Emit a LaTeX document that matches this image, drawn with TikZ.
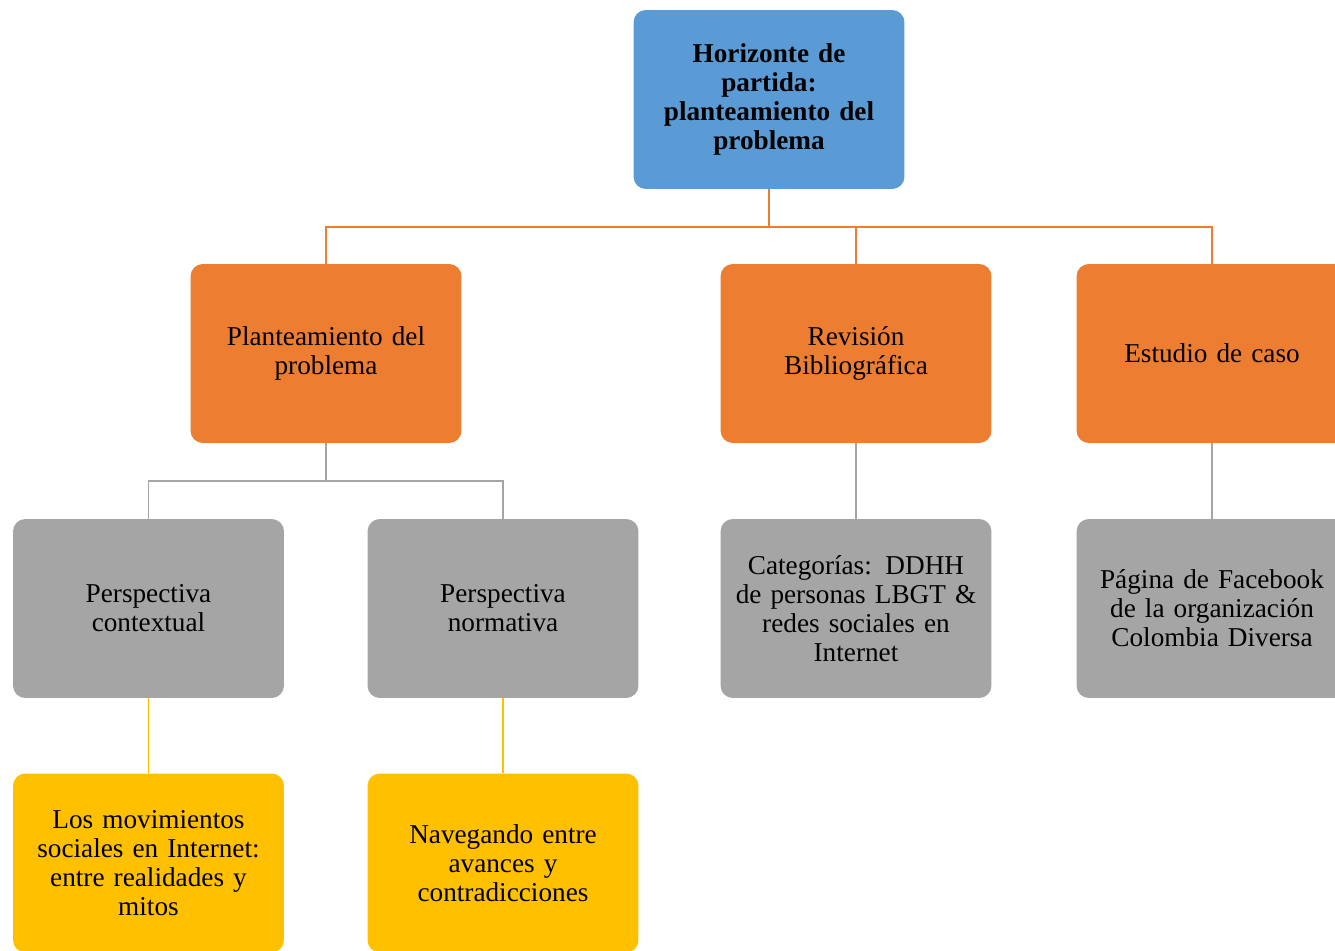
\documentclass[tikz,border=0pt]{standalone}
\usepackage{fontspec}
\setmainfont{Liberation Serif}
\usetikzlibrary{positioning, calc}
\definecolor{hzBlue}{RGB}{91,155,213}
\definecolor{hzOrange}{RGB}{237,125,49}
\definecolor{hzGrey}{RGB}{165,165,165}
\definecolor{hzGold}{RGB}{255,192,0}

\tikzset{
  box/.style={rounded corners=7pt, minimum width=5.42cm, minimum height=3.58cm,
    text width=5cm, align=center, font=\fontsize{15.5}{16.5}\selectfont, inner sep=0pt},
  bluebox/.style={box, fill=hzBlue, font=\fontsize{15.5}{16.5}\selectfont\bfseries},
  orangebox/.style={box, fill=hzOrange},
  greybox/.style={box, fill=hzGrey},
  goldbox/.style={box, fill=hzGold},
  link/.style={line width=1.1pt}
}

\begin{document}
\begin{tikzpicture}[x=0.02cm, y=-0.02cm]
  \useasboundingbox (0,0) rectangle (1335,950);
  \node[bluebox] (hor) at (769,99.5) {Horizonte de\\partida:\\planteamiento del\\problema};

  \node[orangebox] (plan) at (326,353.5) {Planteamiento del\\problema};
  \node[orangebox] (rev) at (856,353.5) {Revisión\\Bibliográfica};
  \node[orangebox] (caso) at (1212,353.5) {Estudio de caso};

  \node[greybox] (pctx) at (148.5,608.5) {Perspectiva\\contextual};
  \node[greybox] (pnor) at (503,608.5) {Perspectiva\\normativa};
  \node[greybox] (cat) at (856,608.5) {Categorías: DDHH\\de personas LBGT \&\\redes sociales en\\Internet};
  \node[greybox] (fb) at (1212,608.5) {Página de Facebook\\de la organización\\Colombia Diversa};

  \node[goldbox] (mov) at (148.5,863) {Los movimientos\\sociales en Internet:\\entre realidades y\\mitos};
  \node[goldbox] (nav) at (503,863) {Navegando entre\\avances y\\contradicciones};

  % connectors
  \foreach \t in {plan, rev, caso}
    \draw[link, hzOrange] (hor.south) -- ++(0,38) -| (\t.north);
  \foreach \t in {pctx, pnor}
    \draw[link, hzGrey] (plan.south) -- ++(0,38) -| (\t.north);
  \draw[link, hzGrey] (rev.south) -- (cat.north);
  \draw[link, hzGrey] (caso.south) -- (fb.north);
  \draw[link, hzGold] (pctx.south) -- (mov.north);
  \draw[link, hzGold] (pnor.south) -- (nav.north);
\end{tikzpicture}
\end{document}
